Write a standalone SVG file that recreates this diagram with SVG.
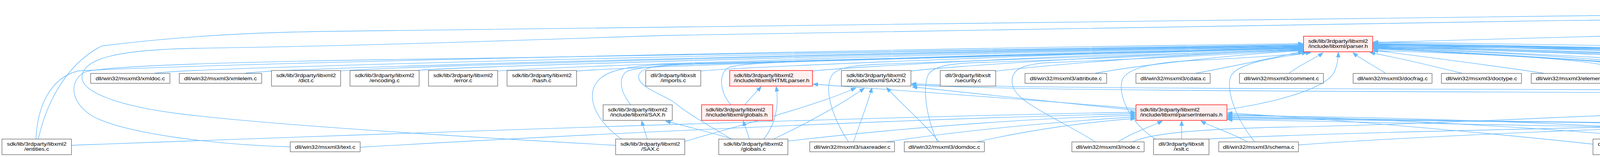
<svg xmlns="http://www.w3.org/2000/svg" width="6655" height="403" viewBox="0 0 6655 403">
<style>
.n rect{fill:#ffffff;stroke:#666666;stroke-width:1.33px}
.r rect{fill:#fff0f0;stroke:#ff0000;stroke-width:1.33px}
.g rect{fill:#999999;stroke:#666666;stroke-width:1.33px}
text{font-family:"Liberation Sans",Arial,Helvetica,sans-serif;font-size:13.33px;fill:#000000;text-anchor:middle}
text.l{text-anchor:start}
#edges path{fill:none;stroke:#63b8ff;stroke-width:1.33px;marker-end:url(#arr)}
</style>
<defs>
<marker id="arr" markerUnits="userSpaceOnUse" viewBox="0 0 13 10" refX="12" refY="5" markerWidth="13" markerHeight="10" orient="auto">
<path d="M0,0L13,5L0,10z" fill="#63b8ff" stroke="#63b8ff" stroke-width="1"/>
</marker>
</defs>
<rect x="0" y="0" width="6655" height="403" fill="#ffffff"/>
<g id="edges">
<path d="M3514,109 C4300,88 5500,52 6297,40"/>
<path d="M98,357 C115,280 160,170 260,118 C500,88 700,82 880,80 C2500,48 4500,32 6297,27"/>
<path d="M1576,373 C1200,352 700,322 460,292 C300,272 205,235 210,195 C215,150 300,128 500,124 C900,118 1200,108 1700,91 C3000,65 5000,35 6297,30"/>
<path d="M5556,357 C5700,320 6100,250 6250,190 C6330,150 6360,100 6377,47"/>
<path d="M5790,359 C5950,320 6200,298 6350,300 C6440,290 6490,200 6470,130 C6455,90 6440,65 6424,47"/>
<path d="M6023,367 C6200,345 6480,320 6515,300 C6560,270 6560,170 6525,130 C6500,100 6475,70 6458,47"/>
<path d="M6560,357 C6600,330 6650,260 6648,200 C6645,130 6600,60 6484,33"/>
<path d="M92,357 C96,270 130,200 200,182 C600,160 2500,122 3335,112"/>
<path d="M743,377 C560,372 330,345 240,300 C180,265 175,210 215,186 C260,165 800,155 1200,150 C2200,135 3000,118 3335,114"/>
<path d="M396,188 C500,170 2500,126 3335,116"/>
<path d="M628,188 C720,172 2600,127 3335,117"/>
<path d="M862,183 C950,170 2600,128 3335,118"/>
<path d="M1068,181 C1150,170 2700,128 3335,119"/>
<path d="M1268,183 C1350,172 2700,129 3335,120"/>
<path d="M1473,183 C1550,173 2800,130 3335,121"/>
<path d="M1591,357 C1540,320 1505,270 1520,225 C1535,190 1570,172 1700,165 C2400,148 3000,128 3335,122"/>
<path d="M1615,269 C1590,240 1580,200 1605,183 C1640,168 1800,163 1900,160 C2500,145 3000,128 3335,123"/>
<path d="M1790,183 C1870,172 2900,132 3335,122"/>
<path d="M1871,357 C1840,335 1770,300 1725,262 C1690,240 1640,225 1635,200 C1632,180 1660,170 1720,166 C2500,148 3000,128 3335,124"/>
<path d="M1871,269 C1845,240 1838,195 1862,175 C1880,165 1950,162 2050,158 C2600,143 3000,128 3335,125"/>
<path d="M2076,183 C2150,172 2900,132 3335,125"/>
<path d="M2172,364 C2130,300 2110,232 2128,196 C2140,174 2180,168 2250,165 C2700,150 3050,134 3335,126"/>
<path d="M2328,183 C2400,172 2950,135 3335,127"/>
<path d="M2400,364 C2370,300 2362,225 2376,192 C2390,168 2440,162 2520,160 C2900,148 3150,134 3335,128"/>
<path d="M2547,183 C2620,173 3000,138 3335,128"/>
<path d="M2804,364 C2700,300 2600,262 2592,218 C2585,182 2610,166 2680,161 C3000,148 3200,136 3335,129"/>
<path d="M2804,188 C2900,170 3150,140 3335,130"/>
<path d="M3061,188 C3150,172 3250,150 3335,132"/>
<path d="M2958,357 C2900,322 2862,252 2872,208 C2882,172 2960,160 3060,155 C3200,148 3300,142 3345,135"/>
<path d="M3212,364 C3160,300 3140,232 3150,197 C3165,162 3260,148 3355,135"/>
<path d="M3300,188 C3330,165 3370,148 3386,136"/>
<path d="M3547,188 C3520,170 3485,152 3464,136"/>
<path d="M3742,188 C3650,165 3560,145 3508,135"/>
<path d="M3952,188 C3800,165 3600,140 3516,129"/>
<path d="M3141,281 C3250,265 3400,230 3418,180 C3425,160 3426,148 3426,135"/>
<path d="M4388,188 C4300,170 3800,135 3516,126"/>
<path d="M4624,188 C4530,170 3900,133 3516,123"/>
<path d="M4846,188 C4750,170 4000,130 3516,122"/>
<path d="M5077,188 C4980,170 4100,128 3516,121"/>
<path d="M5479,188 C5380,170 4300,125 3516,118"/>
<path d="M5729,188 C5630,170 4400,122 3516,116"/>
<path d="M5972,188 C5870,170 4500,120 3516,115"/>
<path d="M4155,357 C4172,300 4172,205 4142,178 C4100,152 3800,138 3516,130"/>
<path d="M4290,357 C4250,322 4220,272 4206,232 C4190,185 4150,162 4050,154 C3800,140 3600,128 3516,124"/>
<path d="M4476,357 C4466,305 4442,257 4392,236 C4320,215 4282,178 4200,165 C3900,142 3620,128 3516,123"/>
<path d="M4325,269 C4305,240 4280,195 4230,172 C4150,150 3800,133 3516,122"/>
<path d="M4860,364 C4960,320 5180,270 5262,235 C5290,200 5272,178 5215,172 C4800,158 3800,130 3516,120"/>
<path d="M5340,357 C5450,312 5600,252 5636,212 C5652,186 5622,175 5560,172 C5000,160 3800,128 3516,117"/>
<path d="M5293,269 C5310,240 5305,190 5280,175 C5220,150 5100,142 5020,140 C4500,128 3800,120 3516,119"/>
<path d="M5520,357 C5700,320 6050,290 6150,240 C6200,210 6195,180 6150,172 C5800,158 4200,125 3516,114"/>
<path d="M5760,357 C5900,320 6120,290 6175,245 C6215,210 6210,180 6170,170 C5800,155 4200,123 3516,113"/>
<path d="M6011,357 C6120,322 6200,262 6216,218 C6230,182 6205,168 6120,165 C5400,150 4000,122 3516,112"/>
<path d="M6259,357 C6268,290 6262,212 6240,186 C6220,168 6150,162 6050,160 C5300,146 4000,120 3516,110"/>
<path d="M6499,357 C6440,282 6330,202 6230,178 C6000,155 4600,122 3516,108"/>
<path d="M1907,269 C1920,252 1935,238 1948,223"/>
<path d="M1955,357 C1985,320 1995,270 1987,223"/>
<path d="M2908,279 C2700,260 2300,232 2082,216"/>
<path d="M2908,283 C2700,262 2450,235 2336,223"/>
<path d="M1753,363 C1880,325 2080,275 2190,226"/>
<path d="M1978,358 C2060,320 2150,270 2212,227"/>
<path d="M2185,364 C2200,320 2220,270 2232,226"/>
<path d="M2404,364 C2360,310 2300,260 2270,225"/>
<path d="M5680,357 C5600,280 5300,240 5020,235 C4000,226 2700,232 2334,215"/>
<path d="M5462,357 C5455,300 5440,268 5380,258 C5250,246 5100,243 5020,242 C4000,234 2700,238 2334,218"/>
<path d="M1657,357 C1652,340 1647,328 1643,311"/>
<path d="M1879,358 C1820,340 1760,325 1705,311"/>
<path d="M1918,357 C1914,340 1908,328 1903,311"/>
<path d="M183,373 C800,350 2200,300 2906,288"/>
<path d="M922,378 C1400,350 2300,305 2906,292"/>
<path d="M2017,362 C2300,330 2600,305 2906,296"/>
<path d="M2270,364 C2500,330 2750,310 2906,300"/>
<path d="M2502,364 C2650,330 2800,312 2906,304"/>
<path d="M2862,364 C2900,340 2945,325 2975,311"/>
<path d="M3025,357 L3025,311"/>
<path d="M3193,364 C3150,340 3100,325 3075,311"/>
<path d="M4078,370 C3800,340 3400,305 3143,290"/>
<path d="M4255,357 C3950,325 3450,302 3143,294"/>
<path d="M4450,357 C4300,322 3600,300 3143,297"/>
<path d="M5400,357 C5350,338 5200,332 5000,330 C4300,322 3600,302 3143,300"/>
<path d="M5630,357 C5580,336 5400,330 5200,328 C4400,320 3600,304 3143,302"/>
<path d="M5860,357 C5800,335 5600,330 5400,328 C4500,320 3600,306 3143,305"/>
<path d="M5055,370 C4950,345 4700,335 4500,333 C4000,325 3500,310 3143,307"/>
<path d="M2900,364 C2950,340 3100,330 3300,326 C3700,318 4050,296 4250,292"/>
<path d="M4191,357 C4230,340 4265,325 4288,311"/>
<path d="M4320,357 C4324,340 4328,325 4331,311"/>
<path d="M4449,357 C4420,340 4395,325 4375,311"/>
<path d="M4739,364 C4620,340 4500,320 4430,307"/>
<path d="M5060,357 C4900,320 4600,290 4428,284"/>
<path d="M3090,357 C3400,340 4000,330 4600,315 C4900,305 5050,297 5198,293"/>
<path d="M3324,372 C3700,345 4200,328 4500,318 C4800,305 5000,298 5198,296"/>
<path d="M4215,357 C4500,330 4900,305 5198,298"/>
<path d="M4370,357 C4700,328 5000,305 5198,300"/>
<path d="M4550,367 C4800,335 5000,305 5198,302"/>
<path d="M5161,357 C5190,340 5220,325 5244,311"/>
<path d="M5288,357 L5288,311"/>
<path d="M5430,357 C5390,340 5360,325 5338,311"/>
<path d="M5640,357 C5560,330 5450,315 5380,306"/>
<path d="M5860,362 C5700,325 5500,305 5380,298"/>
<path d="M6440,357 C6380,330 6200,325 6000,320 C5700,312 5500,300 5380,294"/>
<path d="M6160,357 C6100,332 5900,325 5700,318 C5550,312 5450,305 5382,302"/>
<path d="M6374,45 C6300,150 6150,240 5900,268 C5700,285 5500,285 5382,288"/>
<path d="M3514,114 C4200,128 4900,150 5200,160 C5300,165 5335,195 5328,230 C5325,245 5320,255 5316,267"/>
</g>
<g id="node-entities-h" class="g"><rect x="6299" y="5" width="183" height="40"/><text class="l" transform="translate(6310,5) scale(1.128,1)"><tspan x="0" y="17">sdk/lib/3rdparty/libxml2</tspan><tspan x="0" y="30.3">/include/libxml/entities.h</tspan></text></g>
<g id="node-parser-h" class="r"><rect x="3337" y="93" width="177" height="40"/><text transform="translate(3425.5,93) scale(1.128,1)"><tspan x="0" y="17">sdk/lib/3rdparty/libxml2</tspan><tspan x="0" y="30.3">/include/libxml/parser.h</tspan></text></g>
<g id="node-xmldoc-c" class="n"><rect x="232" y="188.5" width="203" height="25.3"/><text transform="translate(333.5,188.5) scale(1.128,1)" x="0" y="17.3">dll/win32/msxml3/xmldoc.c</text></g>
<g id="node-xmlelem-c" class="n"><rect x="459" y="188.5" width="211" height="25.3"/><text transform="translate(564.5,188.5) scale(1.128,1)" x="0" y="17.3">dll/win32/msxml3/xmlelem.c</text></g>
<g id="node-dict-c" class="n"><rect x="695" y="181" width="177" height="40"/><text transform="translate(783.5,181) scale(1.128,1)"><tspan x="0" y="17">sdk/lib/3rdparty/libxml2</tspan><tspan x="0" y="30.3">/dict.c</tspan></text></g>
<g id="node-encoding-c" class="n"><rect x="896" y="181" width="177" height="40"/><text transform="translate(984.5,181) scale(1.128,1)"><tspan x="0" y="17">sdk/lib/3rdparty/libxml2</tspan><tspan x="0" y="30.3">/encoding.c</tspan></text></g>
<g id="node-error-c" class="n"><rect x="1097" y="181" width="177" height="40"/><text transform="translate(1185.5,181) scale(1.128,1)"><tspan x="0" y="17">sdk/lib/3rdparty/libxml2</tspan><tspan x="0" y="30.3">/error.c</tspan></text></g>
<g id="node-hash-c" class="n"><rect x="1298" y="181" width="178" height="40"/><text transform="translate(1387,181) scale(1.128,1)"><tspan x="0" y="17">sdk/lib/3rdparty/libxml2</tspan><tspan x="0" y="30.3">/hash.c</tspan></text></g>
<g id="node-imports-c" class="n"><rect x="1653" y="181" width="141" height="40"/><text transform="translate(1723.5,181) scale(1.128,1)"><tspan x="0" y="17">dll/3rdparty/libxslt</tspan><tspan x="0" y="30.3">/imports.c</tspan></text></g>
<g id="node-HTMLparser-h" class="r"><rect x="1868" y="181" width="212" height="40"/><text class="l" transform="translate(1878.5,181) scale(1.128,1)"><tspan x="0" y="17">sdk/lib/3rdparty/libxml2</tspan><tspan x="0" y="30.3">/include/libxml/HTMLparser.h</tspan></text></g>
<g id="node-SAX2-h" class="n"><rect x="2154" y="181" width="178" height="40"/><text transform="translate(2243,181) scale(1.128,1)"><tspan x="0" y="17">sdk/lib/3rdparty/libxml2</tspan><tspan x="0" y="30.3">/include/libxml/SAX2.h</tspan></text></g>
<g id="node-security-c" class="n"><rect x="2407" y="181" width="142" height="40"/><text transform="translate(2478,181) scale(1.128,1)"><tspan x="0" y="17">dll/3rdparty/libxslt</tspan><tspan x="0" y="30.3">/security.c</tspan></text></g>
<g id="node-attribute-c" class="n"><rect x="2624" y="188.5" width="209" height="25.3"/><text transform="translate(2728.5,188.5) scale(1.128,1)" x="0" y="17.3">dll/win32/msxml3/attribute.c</text></g>
<g id="node-cdata-c" class="n"><rect x="2908" y="188.5" width="190" height="25.3"/><text transform="translate(3003,188.5) scale(1.128,1)" x="0" y="17.3">dll/win32/msxml3/cdata.c</text></g>
<g id="node-comment-c" class="n"><rect x="3173" y="188.5" width="215" height="25.3"/><text transform="translate(3280.5,188.5) scale(1.128,1)" x="0" y="17.3">dll/win32/msxml3/comment.c</text></g>
<g id="node-docfrag-c" class="n"><rect x="3464" y="188.5" width="202" height="25.3"/><text transform="translate(3565,188.5) scale(1.128,1)" x="0" y="17.3">dll/win32/msxml3/docfrag.c</text></g>
<g id="node-doctype-c" class="n"><rect x="3690" y="188.5" width="205" height="25.3"/><text transform="translate(3792.5,188.5) scale(1.128,1)" x="0" y="17.3">dll/win32/msxml3/doctype.c</text></g>
<g id="node-element-c" class="n"><rect x="3920" y="188.5" width="207" height="25.3"/><text transform="translate(4023.5,188.5) scale(1.128,1)" x="0" y="17.3">dll/win32/msxml3/element.c</text></g>
<g id="node-entityref-c" class="n"><rect x="4353" y="188.5" width="209" height="25.3"/><text transform="translate(4457.5,188.5) scale(1.128,1)" x="0" y="17.3">dll/win32/msxml3/entityref.c</text></g>
<g id="node-factory-c" class="n"><rect x="4585" y="188.5" width="198" height="25.3"/><text transform="translate(4684,188.5) scale(1.128,1)" x="0" y="17.3">dll/win32/msxml3/factory.c</text></g>
<g id="node-nodelist-c" class="n"><rect x="4807" y="188.5" width="206" height="25.3"/><text transform="translate(4910,188.5) scale(1.128,1)" x="0" y="17.3">dll/win32/msxml3/nodelist.c</text></g>
<g id="node-nodemap-c" class="n"><rect x="5037" y="188.5" width="214" height="25.3"/><text transform="translate(5144,188.5) scale(1.128,1)" x="0" y="17.3">dll/win32/msxml3/nodemap.c</text></g>
<g id="node-pi-c" class="n"><rect x="5453" y="188.5" width="165" height="25.3"/><text transform="translate(5535.5,188.5) scale(1.128,1)" x="0" y="17.3">dll/win32/msxml3/pi.c</text></g>
<g id="node-selection-c" class="n"><rect x="5692" y="188.5" width="212" height="25.3"/><text transform="translate(5798,188.5) scale(1.128,1)" x="0" y="17.3">dll/win32/msxml3/selection.c</text></g>
<g id="node-stylesheet-c" class="n"><rect x="5929" y="188.5" width="220" height="25.3"/><text transform="translate(6039,188.5) scale(1.128,1)" x="0" y="17.3">dll/win32/msxml3/stylesheet.c</text></g>
<g id="node-SAX-h" class="n"><rect x="1544" y="269" width="177" height="40"/><text transform="translate(1632.5,269) scale(1.128,1)"><tspan x="0" y="17">sdk/lib/3rdparty/libxml2</tspan><tspan x="0" y="30.3">/include/libxml/SAX.h</tspan></text></g>
<g id="node-globals-h" class="r"><rect x="1796" y="269" width="182" height="40"/><text class="l" transform="translate(1806.5,269) scale(1.128,1)"><tspan x="0" y="17">sdk/lib/3rdparty/libxml2</tspan><tspan x="0" y="30.3">/include/libxml/globals.h</tspan></text></g>
<g id="node-parserInternals-h" class="r"><rect x="2908" y="269" width="233" height="40"/><text class="l" transform="translate(2918.5,269) scale(1.128,1)"><tspan x="0" y="17">sdk/lib/3rdparty/libxml2</tspan><tspan x="0" y="30.3">/include/libxml/parserInternals.h</tspan></text></g>
<g id="node-transform-h" class="r"><rect x="4252" y="269" width="174" height="40"/><text class="l" transform="translate(4262.5,269) scale(1.128,1)"><tspan x="0" y="17">sdk/include/reactos</tspan><tspan x="0" y="30.3">/libs/libxslt/transform.h</tspan></text></g>
<g id="node-tree-h" class="r"><rect x="5200" y="269" width="178" height="40"/><text transform="translate(5289,269) scale(1.128,1)"><tspan x="0" y="17">sdk/lib/3rdparty/libxml2</tspan><tspan x="0" y="30.3">/include/libxml/tree.h</tspan></text></g>
<g id="node-entities-c" class="n"><rect x="5" y="357" width="178" height="40"/><text transform="translate(94,357) scale(1.128,1)"><tspan x="0" y="17">sdk/lib/3rdparty/libxml2</tspan><tspan x="0" y="30.3">/entities.c</tspan></text></g>
<g id="node-text-c" class="n"><rect x="743" y="364.3" width="179" height="25.3"/><text transform="translate(832.5,364.3) scale(1.128,1)" x="0" y="17.3">dll/win32/msxml3/text.c</text></g>
<g id="node-SAX-c" class="n"><rect x="1576" y="357" width="177" height="40"/><text transform="translate(1664.5,357) scale(1.128,1)"><tspan x="0" y="17">sdk/lib/3rdparty/libxml2</tspan><tspan x="0" y="30.3">/SAX.c</tspan></text></g>
<g id="node-globals-c" class="n"><rect x="1840" y="357" width="177" height="40"/><text transform="translate(1928.5,357) scale(1.128,1)"><tspan x="0" y="17">sdk/lib/3rdparty/libxml2</tspan><tspan x="0" y="30.3">/globals.c</tspan></text></g>
<g id="node-saxreader-c" class="n"><rect x="2073" y="364.3" width="217" height="25.3"/><text transform="translate(2181.5,364.3) scale(1.128,1)" x="0" y="17.3">dll/win32/msxml3/saxreader.c</text></g>
<g id="node-domdoc-c" class="n"><rect x="2315" y="364.3" width="205" height="25.3"/><text transform="translate(2417.5,364.3) scale(1.128,1)" x="0" y="17.3">dll/win32/msxml3/domdoc.c</text></g>
<g id="node-node-c" class="n"><rect x="2744" y="364.3" width="185" height="25.3"/><text transform="translate(2836.5,364.3) scale(1.128,1)" x="0" y="17.3">dll/win32/msxml3/node.c</text></g>
<g id="node-xslt-c" class="n"><rect x="2953" y="357" width="142" height="40"/><text transform="translate(3024,357) scale(1.128,1)"><tspan x="0" y="17">dll/3rdparty/libxslt</tspan><tspan x="0" y="30.3">/xslt.c</tspan></text></g>
<g id="node-schema-c" class="n"><rect x="3120" y="364.3" width="204" height="25.3"/><text transform="translate(3222,364.3) scale(1.128,1)" x="0" y="17.3">dll/win32/msxml3/schema.c</text></g>
<g id="node-documents-c" class="n"><rect x="4078" y="357" width="141" height="40"/><text transform="translate(4148.5,357) scale(1.128,1)"><tspan x="0" y="17">dll/3rdparty/libxslt</tspan><tspan x="0" y="30.3">/documents.c</tspan></text></g>
<g id="node-transform-c" class="n"><rect x="4243" y="357" width="142" height="40"/><text transform="translate(4314,357) scale(1.128,1)"><tspan x="0" y="17">dll/3rdparty/libxslt</tspan><tspan x="0" y="30.3">/transform.c</tspan></text></g>
<g id="node-precomp-h" class="n"><rect x="4409" y="357" width="141" height="40"/><text transform="translate(4479.5,357) scale(1.128,1)"><tspan x="0" y="17">dll/3rdparty/libxslt</tspan><tspan x="0" y="30.3">/precomp.h</tspan></text></g>
<g id="node-main-c" class="n"><rect x="4708" y="364.3" width="187" height="25.3"/><text transform="translate(4801.5,364.3) scale(1.128,1)" x="0" y="17.3">dll/win32/msxml3/main.c</text></g>
<g id="node-functions-c" class="n"><rect x="5053" y="357" width="141" height="40"/><text transform="translate(5123.5,357) scale(1.128,1)"><tspan x="0" y="17">dll/3rdparty/libxslt</tspan><tspan x="0" y="30.3">/functions.c</tspan></text></g>
<g id="node-preproc-c" class="n"><rect x="5218" y="357" width="141" height="40"/><text transform="translate(5288.5,357) scale(1.128,1)"><tspan x="0" y="17">dll/3rdparty/libxslt</tspan><tspan x="0" y="30.3">/preproc.c</tspan></text></g>
<g id="node-SAX2-c" class="n"><rect x="5383" y="357" width="178" height="40"/><text transform="translate(5472,357) scale(1.128,1)"><tspan x="0" y="17">sdk/lib/3rdparty/libxml2</tspan><tspan x="0" y="30.3">/SAX2.c</tspan></text></g>
<g id="node-parser-c" class="n"><rect x="5617" y="357" width="177" height="40"/><text transform="translate(5705.5,357) scale(1.128,1)"><tspan x="0" y="17">sdk/lib/3rdparty/libxml2</tspan><tspan x="0" y="30.3">/parser.c</tspan></text></g>
<g id="node-parserInternals-c" class="n"><rect x="5845" y="357" width="178" height="40"/><text transform="translate(5934,357) scale(1.128,1)"><tspan x="0" y="17">sdk/lib/3rdparty/libxml2</tspan><tspan x="0" y="30.3">/parserInternals.c</tspan></text></g>
<g id="node-xmlreader-h" class="n"><rect x="6151" y="357" width="200" height="40"/><text class="l" transform="translate(6162,357) scale(1.128,1)"><tspan x="0" y="17">sdk/lib/3rdparty/libxml2</tspan><tspan x="0" y="30.3">/include/libxml/xmlreader.h</tspan></text></g>
<g id="node-tree-c" class="n"><rect x="6428" y="357" width="177" height="40"/><text transform="translate(6516.5,357) scale(1.128,1)"><tspan x="0" y="17">sdk/lib/3rdparty/libxml2</tspan><tspan x="0" y="30.3">/tree.c</tspan></text></g>
</svg>
